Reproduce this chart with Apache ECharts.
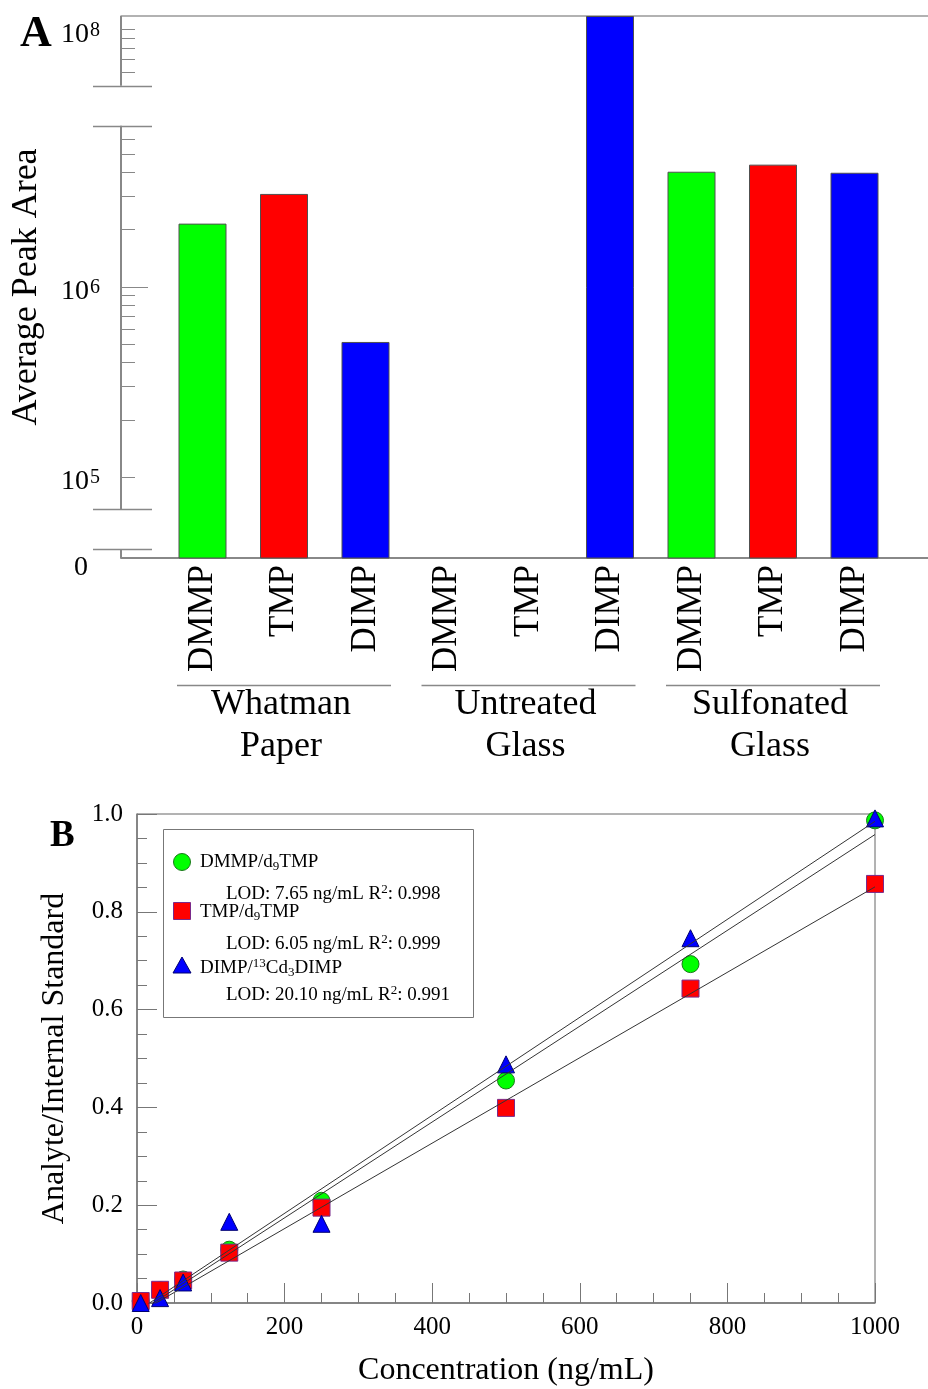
<!DOCTYPE html>
<html><head><meta charset="utf-8">
<script src="https://cdn.jsdelivr.net/npm/echarts@6/dist/echarts.min.js"></script>
<style>html,body{margin:0;padding:0;background:#fff}#c{width:928px;height:1389px}</style>
</head><body><div id="c"></div>
<script>
// ---------- Panel A data ----------
const compounds = ['DMMP', 'TMP', 'DIMP'];
const surfaces = ['Whatman\nPaper', 'Untreated\nGlass', 'Sulfonated\nGlass'];
const whatmanArea = [2.15e6, 3.08e6, 5.13e5];
const untreatedArea = [null, null, 1.18e8];
const sulfonatedArea = [4.03e6, 4.39e6, 3.98e6];
const yLabelValues = [1e4, 1e5, 1e6, 1e8];          // 1e4 is the "0" floor of the broken axis
const yTickValues = [1e5, 2e5, 3e5, 4e5, 5e5, 6e5, 7e5, 8e5, 9e5, 1e6,
  2e6, 3e6, 4e6, 5e6, 6e6, 6e7, 7e7, 8e7, 9e7, 1e8];
const yAxisMin = 1e4, yAxisMax = 1.18e8;
const lowBreak = [11150, 67870];
const highBreak = [7.03e6, 5.07e7];

// ---------- Panel B data ----------
const concentration = [5, 31.25, 62.5, 125, 250, 500, 750, 1000];
const dmmpRatio = [0.004, 0.026, 0.048, 0.109, 0.209, 0.455, 0.693, 0.987];
const tmpRatio = [0.004, 0.027, 0.046, 0.103, 0.195, 0.399, 0.643, 0.857];
const dimpRatio = [0.0, 0.010, 0.042, 0.166, 0.162, 0.488, 0.746, 0.991];
const dmmpFit = [[12, -0.010], [1000, 0.958]];
const tmpFit = [[12, -0.012], [1000, 0.851]];
const dimpFit = [[12, -0.005], [1000, 0.985]];
const legendTexts = [
  ['{n|DMMP/d}{sub|9}{n|TMP}', '{n|LOD: 7.65 ng/mL R}{sup|2}{n|: 0.998}'],
  ['{n|TMP/d}{sub|9}{n|TMP}', '{n|LOD: 6.05 ng/mL R}{sup|2}{n|: 0.999}'],
  ['{n|DIMP/}{sup|13}{n|Cd}{sub|3}{n|DIMP}', '{n|LOD: 20.10 ng/mL R}{sup|2}{n|: 0.991}']
];

const FF = 'Liberation Serif';
const colors = ['#00ff00', '#ff0000', '#0000ff'];
const categories = [].concat(compounds, compounds, compounds);
const areas = [].concat(whatmanArea, untreatedArea, sulfonatedArea);

const chart = echarts.init(document.getElementById('c'), null, {renderer: 'canvas', width: 928, height: 1389});

const brk = [
  {start: lowBreak[0], end: lowBreak[1], gap: '7.38%'},
  {start: highBreak[0], end: highBreak[1], gap: '7.38%'}
];

function logAxisBase(extra) {
  return Object.assign({
    type: 'log', logBase: 10, gridIndex: 0, position: 'left',
    min: yAxisMin, max: yAxisMax,
    breaks: brk,
    breakArea: {show: false},
    axisLine: {show: false},
    splitLine: {show: false},
    minorTick: {show: false},
    minorSplitLine: {show: false}
  }, extra);
}

const option = {
  animation: false,
  backgroundColor: '#fff',
  grid: [
    {left: 121, top: 16, width: 815, height: 542, outerBoundsMode: 'none', containLabel: false},
    {left: 137, top: 814, width: 738, height: 489, outerBoundsMode: 'none', containLabel: false,
      show: true, borderColor: '#666', borderWidth: 1, backgroundColor: 'transparent'}
  ],
  xAxis: [
    {
      type: 'category', gridIndex: 0, data: categories, boundaryGap: false, min: -1, max: 9,
      axisLine: {lineStyle: {color: '#888', width: 2}},
      axisTick: {show: false},
      splitLine: {show: false},
      axisLabel: {rotate: 90, interval: 0, fontSize: 35, fontFamily: FF, color: '#000', margin: 7}
    },
    {
      type: 'value', gridIndex: 0, position: 'top', min: 0, max: 1,
      axisLine: {show: true, lineStyle: {color: '#999', width: 1.5}},
      axisTick: {show: false}, axisLabel: {show: false}, splitLine: {show: false}
    },
    {
      type: 'value', gridIndex: 1, min: 0, max: 1000, interval: 200,
      axisLine: {lineStyle: {color: '#777', width: 1.5}},
      axisTick: {show: true, inside: true, length: 20, lineStyle: {color: '#777', width: 1}},
      minorTick: {show: true, splitNumber: 4, length: 10, lineStyle: {color: '#777', width: 1}},
      splitLine: {show: false}, minorSplitLine: {show: false},
      axisLabel: {fontSize: 25, fontFamily: FF, color: '#000', margin: 12, formatter: v => String(v)},
      name: 'Concentration (ng/mL)', nameLocation: 'middle', nameGap: 52,
      nameTextStyle: {fontSize: 32, fontFamily: FF, color: '#000'}
    }
  ],
  yAxis: [
    logAxisBase({
      axisTick: {show: true, inside: true, length: 14, customValues: yTickValues, lineStyle: {color: '#888', width: 1}},
      axisLabel: {
        show: true, customValues: yLabelValues, margin: 21, padding: [10, 0, 0, 0],
        fontSize: 28, fontFamily: FF, color: '#000',
        formatter: function (v) {
          const e = Math.round(Math.log10(v));
          return e === 4 ? '{z|0}' : '{b|10}{s|' + e + '}';
        },
        rich: {
          b: {fontSize: 28, fontFamily: FF, color: '#000', lineHeight: 28, verticalAlign: 'bottom'},
          s: {fontSize: 20, fontFamily: FF, color: '#000', lineHeight: 20, verticalAlign: 'top', padding: [0, 0, 16, 1]},
          z: {fontSize: 28, fontFamily: FF, color: '#000', lineHeight: 28, padding: [10, 12, 0, 0]}
        }
      },
      name: 'Average Peak Area', nameLocation: 'middle', nameGap: 76,
      nameTextStyle: {fontSize: 36, fontFamily: FF, color: '#000'}
    }),
    logAxisBase({
      axisTick: {show: true, inside: true, length: 27, customValues: [1e6], lineStyle: {color: '#888', width: 1}},
      axisLabel: {show: false}
    }),
    {
      type: 'value', gridIndex: 1, min: 0, max: 1, interval: 0.2,
      axisLine: {show: true, lineStyle: {color: '#777', width: 1.5}},
      axisTick: {show: true, inside: true, length: 20, lineStyle: {color: '#777', width: 1}},
      minorTick: {show: true, splitNumber: 4, length: 10, lineStyle: {color: '#777', width: 1}},
      splitLine: {show: false}, minorSplitLine: {show: false},
      axisLabel: {fontSize: 25, fontFamily: FF, color: '#000', margin: 14, formatter: v => v.toFixed(1)},
      name: 'Analyte/Internal Standard', nameLocation: 'middle', nameGap: 66,
      nameTextStyle: {fontSize: 32, fontFamily: FF, color: '#000'}
    }
  ],
  series: [
    {
      type: 'bar', xAxisIndex: 0, yAxisIndex: 0, barWidth: 48, clip: true,
      data: areas.map((v, i) => v == null ? '-' : {
        value: v, itemStyle: {color: colors[i % 3], borderColor: '#505050', borderWidth: 1}
      })
    },
    {
      type: 'scatter', xAxisIndex: 2, yAxisIndex: 2, symbol: 'circle', symbolSize: 17, z: 3,
      itemStyle: {color: '#00ff00', borderColor: '#1a7a1a', borderWidth: 1, opacity: 1},
      data: concentration.map((x, i) => [x, dmmpRatio[i]])
    },
    {
      type: 'scatter', xAxisIndex: 2, yAxisIndex: 2, symbol: 'rect', symbolSize: 17, z: 4,
      itemStyle: {color: '#ff0000', borderColor: '#7a2a8a', borderWidth: 1, opacity: 1},
      data: concentration.map((x, i) => [x, tmpRatio[i]])
    },
    {
      type: 'scatter', xAxisIndex: 2, yAxisIndex: 2, symbol: 'triangle', symbolSize: 17, z: 5,
      itemStyle: {color: '#0000ff', borderColor: '#000070', borderWidth: 1, opacity: 1},
      data: concentration.map((x, i) => [x, dimpRatio[i]])
    },
    {type: 'line', xAxisIndex: 2, yAxisIndex: 2, data: dmmpFit, symbol: 'none', z: 6, silent: true,
      lineStyle: {color: '#333', width: 1}},
    {type: 'line', xAxisIndex: 2, yAxisIndex: 2, data: tmpFit, symbol: 'none', z: 6, silent: true,
      lineStyle: {color: '#333', width: 1}},
    {type: 'line', xAxisIndex: 2, yAxisIndex: 2, data: dimpFit, symbol: 'none', z: 6, silent: true,
      lineStyle: {color: '#333', width: 1}}
  ]
};
chart.setOption(option);

// ---------- decorations computed from the axes ----------
const g = [];
const py = v => chart.convertToPixel({yAxisIndex: 0}, v);
const pxA = i => chart.convertToPixel({xAxisIndex: 0}, i);
const axX = pxA(-1);
const segs = [[yAxisMin, lowBreak[0]], [lowBreak[1], highBreak[0]], [highBreak[1], yAxisMax]];
segs.forEach(s => {
  g.push({type: 'line', shape: {x1: axX, y1: py(s[0]), x2: axX, y2: py(s[1])},
    style: {stroke: '#888', lineWidth: 2}, z: 10});
});
[lowBreak[0], lowBreak[1], highBreak[0], highBreak[1]].forEach(v => {
  const y = Math.round(py(v)) + 0.5;
  g.push({type: 'line', shape: {x1: axX - 28, y1: y, x2: axX + 31, y2: y},
    style: {stroke: '#888', lineWidth: 1.5}, z: 10});
});
surfaces.forEach((s, k) => {
  const cx = pxA(k * 3 + 1);
  g.push({type: 'line', shape: {x1: cx - 107, y1: 685.5, x2: cx + 107, y2: 685.5},
    style: {stroke: '#888', lineWidth: 1.5}});
  g.push({type: 'text', x: cx - 3, y: 726, style: {text: s, fontSize: 36, fontFamily: FF, fill: '#000',
    lineHeight: 42, align: 'center', verticalAlign: 'middle', textAlign: 'center', textVerticalAlign: 'middle'}});
});
g.push({type: 'text', x: 20, y: 35, style: {text: 'A', fontSize: 44, fontWeight: 'bold', fontFamily: FF, fill: '#000',
  verticalAlign: 'middle', textVerticalAlign: 'middle'}});
g.push({type: 'text', x: 50, y: 836, style: {text: 'B', fontSize: 37, fontWeight: 'bold', fontFamily: FF, fill: '#000',
  verticalAlign: 'middle', textVerticalAlign: 'middle'}});

// legend for panel B
const rich = {
  n: {fontSize: 19, fontFamily: FF, fill: '#000', color: '#000', lineHeight: 22, verticalAlign: 'middle'},
  sub: {fontSize: 13, fontFamily: FF, fill: '#000', color: '#000', lineHeight: 12, verticalAlign: 'bottom'},
  sup: {fontSize: 13, fontFamily: FF, fill: '#000', color: '#000', lineHeight: 12, verticalAlign: 'top'}
};
g.push({type: 'rect', shape: {x: 163.5, y: 829.5, width: 310, height: 188},
  style: {fill: '#fff', stroke: '#777', lineWidth: 1}, z: 20});
g.push({type: 'circle', shape: {cx: 182, cy: 862, r: 8.5}, style: {fill: '#00ff00', stroke: '#1a7a1a', lineWidth: 1}, z: 21});
g.push({type: 'rect', shape: {x: 173.5, y: 902.5, width: 17, height: 17}, style: {fill: '#ff0000', stroke: '#7a2a8a', lineWidth: 1}, z: 21});
g.push({type: 'polygon', shape: {points: [[182, 957], [191, 973], [173, 973]]}, style: {fill: '#0000ff', stroke: '#000070', lineWidth: 1}, z: 21});
const rowY = [[862, 894], [912, 944], [968, 995]];
legendTexts.forEach((t, k) => {
  g.push({type: 'text', x: 200, y: rowY[k][0], z: 21, style: {text: t[0], rich: rich, align: 'left', verticalAlign: 'middle', textVerticalAlign: 'middle'}});
  g.push({type: 'text', x: 226, y: rowY[k][1], z: 21, style: {text: t[1], rich: rich, align: 'left', verticalAlign: 'middle', textVerticalAlign: 'middle'}});
});
chart.setOption({graphic: g});
</script>
</body></html>
